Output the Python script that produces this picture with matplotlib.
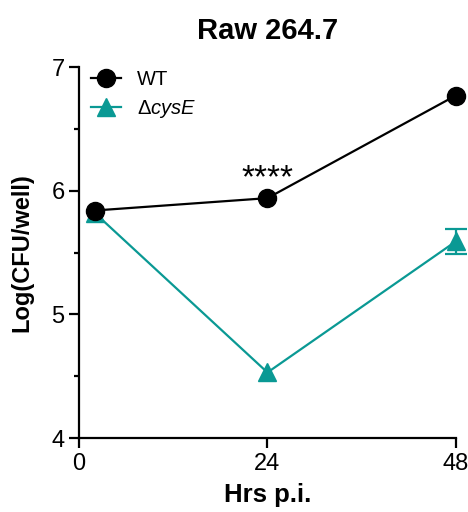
import matplotlib
matplotlib.use("Agg")
import matplotlib.pyplot as plt
from matplotlib.ticker import MultipleLocator

plt.rcParams['font.family'] = ['Liberation Sans', 'DejaVu Sans']
plt.rcParams['mathtext.fontset'] = 'custom'
plt.rcParams['mathtext.rm'] = 'Liberation Sans'
plt.rcParams['mathtext.it'] = 'Liberation Sans:italic'

hours = [2, 24, 48]
wt = [5.84, 5.94, 6.77]
cyse = [5.82, 4.53, 5.59]
cyse_err = [0.0, 0.0, 0.10]
xticks = [0, 24, 48]
yticks = [4, 5, 6, 7]
teal = '#0a9994'

fig = plt.figure(figsize=(4.68, 5.12), dpi=100)
ax = fig.add_axes([0.169, 0.1445, 0.805, 0.7245])

ax.plot(hours, wt, color='black', marker='o', markersize=13, linewidth=1.6,
        clip_on=False, label='WT', zorder=3)
ax.plot(hours, cyse, color=teal, marker='^', markersize=13, linewidth=1.6,
        clip_on=False, label=r'$\Delta\mathit{cysE}$', zorder=2)
err_x = [h for h, e in zip(hours, cyse_err) if e > 0]
err_y = [v for v, e in zip(cyse, cyse_err) if e > 0]
err_e = [e for e in cyse_err if e > 0]
ax.errorbar(err_x, err_y, yerr=err_e, fmt='none', ecolor=teal, capsize=8,
            capthick=1.6, elinewidth=1.6, clip_on=False, zorder=2)

ax.text(24, 6.1, '****', ha='center', va='center', fontsize=24)

ax.set_xlim(0, 48)
ax.set_ylim(4, 7)
ax.set_xticks(xticks)
ax.set_yticks(yticks)
ax.yaxis.set_minor_locator(MultipleLocator(0.5))
for s in ['top', 'right']:
    ax.spines[s].set_visible(False)
for s in ['left', 'bottom']:
    ax.spines[s].set_linewidth(1.6)
ax.tick_params(axis='both', which='major', width=1.6, length=7, labelsize=17, direction='out')
ax.tick_params(axis='y', which='minor', width=1.6, length=3.5, direction='out')

ax.set_xlabel('Hrs p.i.', fontsize=18.5, fontweight='bold', labelpad=6)
ax.set_ylabel('Log(CFU/well)', fontsize=17, fontweight='bold', labelpad=13)
ax.set_title('Raw 264.7', fontsize=21, fontweight='bold', pad=20)

leg = ax.legend(loc='upper left', bbox_to_anchor=(-0.007, 1.03), frameon=False, fontsize=14.5,
                handlelength=1.5, handletextpad=0.8, borderaxespad=0.3, labelspacing=0.45)

fig.savefig('out.png', dpi=100)
